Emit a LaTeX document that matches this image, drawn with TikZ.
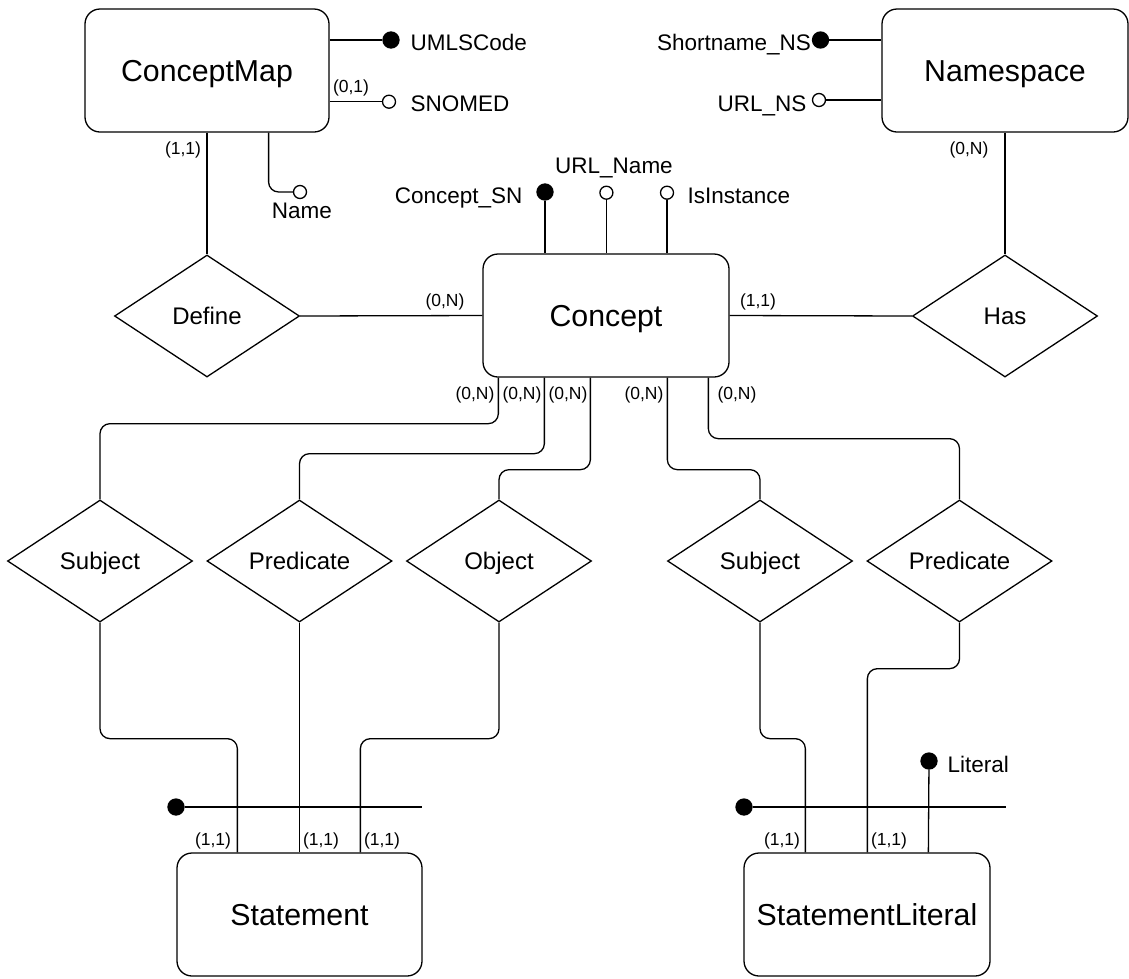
\documentclass[tikz,border=0pt]{standalone}
\usepackage{fontspec}
\setmainfont{Liberation Sans}
\usetikzlibrary{shapes.geometric}
\begin{document}
\begin{tikzpicture}[x=1pt,y=-1pt,
  line width=1.3pt,
  entity/.style={draw, rounded corners=15pt, minimum width=245pt, minimum height=123pt,
    inner sep=0pt, text height=21.7pt, text depth=0pt, font=\fontsize{30.3}{36}\selectfont},
  relation/.style={draw, diamond, minimum width=185pt, minimum height=122pt,
    inner sep=0pt, text height=17.2pt, text depth=0pt, font=\fontsize{24}{29}\selectfont},
  keydot/.style={circle, draw, fill=black, minimum size=16pt, inner sep=0pt},
  optdot/.style={circle, draw, fill=white, minimum size=13pt, inner sep=0pt},
  attr/.style={inner sep=0pt, font=\fontsize{22.5}{27}\selectfont},
  card/.style={inner sep=0pt, anchor=base, font=\fontsize{17.5}{21}\selectfont},
  conn/.style={rounded corners=10pt}
]
\useasboundingbox (0,0) rectangle (1129,978);

% entities
\node[entity, minimum width=244pt] (cmap) at (207,70.5) {ConceptMap};
\node[entity, minimum width=246pt] (ns) at (1005,70.5) {Namespace};
\node[entity, minimum width=246pt] (concept) at (606,315.5) {Concept};
\node[entity] (stmt) at (299.5,914.5) {Statement};
\node[entity, minimum width=246pt] (stlit) at (867,914.5) {StatementLiteral};

% relationships
\node[relation] (define) at (207,316) {Define};
\node[relation] (has) at (1005,316) {Has};
\node[relation] (subjA) at (100,561) {Subject};
\node[relation] (predA) at (299.5,561) {Predicate};
\node[relation] (obj) at (499,561) {Object};
\node[relation] (subjB) at (760,561) {Subject};
\node[relation] (predB) at (959.5,561) {Predicate};

% attribute markers
\node[keydot] (umlsdot) at (391,40) {};
\node[optdot] (snomeddot) at (389,101.7) {};
\node[optdot] (namedot) at (300,192) {};
\node[keydot] (sndot) at (545,192) {};
\node[optdot] (urldot) at (606.4,192.7) {};
\node[optdot] (instdot) at (667,192.7) {};
\node[keydot] (shortdot) at (820.5,40) {};
\node[optdot] (urlnsdot) at (819,100) {};
\node[keydot] (stmtkey) at (176,807) {};
\node[keydot] (stlitkey) at (744,807) {};
\node[keydot] (litdot) at (929,761) {};
\coordinate (stmtkeyend) at (422,807);
\coordinate (stlitkeyend) at (1006,807);

% attribute names
\node[attr, anchor=base west] (umlstxt) at (410,50) {UMLSCode};
\node[attr, anchor=base west] (snomedtxt) at (410,111.5) {SNOMED};
\node[attr, anchor=base] (nametxt) at (302,218) {Name};
\node[attr, anchor=base east] (sntxt) at (523,203) {Concept\_SN};
\node[attr, anchor=base] (urltxt) at (614,173) {URL\_Name};
\node[attr, anchor=base west] (insttxt) at (687,203) {IsInstance};
\node[attr, anchor=base east] (shorttxt) at (811.5,50) {Shortname\_NS};
\node[attr, anchor=base east] (urlnstxt) at (807,111.5) {URL\_NS};
\node[attr, anchor=base west] (littxt) at (947,772) {Literal};

% connectors
\draw (cmap.east |- umlsdot) -- (umlsdot);
\draw (cmap.east |- snomeddot) -- (snomeddot);
\draw[conn] ([xshift=61.6pt]cmap.south) |- (namedot);
\draw (cmap.south) -- (define.north);
\draw (define.east) -- (concept.west);
\draw (concept.east) -- (has.west);
\draw (ns.south) -- (has.north);
\draw (shortdot) -- (ns.west |- shortdot);
\draw (urlnsdot) -- (ns.west |- urlnsdot);
\draw (sndot) -- (sndot |- concept.north);
\draw (urldot) -- (urldot |- concept.north);
\draw (instdot) -- (instdot |- concept.north);

\draw[conn] ([xshift=16pt]concept.south west) -- ++(0,46) -| (subjA.north);
\draw[conn] ([xshift=62pt]concept.south west) -- ++(0,76) -| (predA.north);
\draw[conn] ([xshift=108pt]concept.south west) -- ++(0,92) -| (obj.north);
\draw[conn] ([xshift=185pt]concept.south west) -- ++(0,92) -| (subjB.north);
\draw[conn] ([xshift=226pt]concept.south west) -- ++(0,61) -| (predB.north);

\draw[conn] (subjA.south) -- ++(0,116) -| ([xshift=61pt]stmt.north west);
\draw (predA.south) -- (stmt.north);
\draw[conn] (obj.south) -- ++(0,116) -| ([xshift=184pt]stmt.north west);
\draw[conn] (subjB.south) -- ++(0,116) -| ([xshift=62pt]stlit.north west);
\draw[conn] (predB.south) -- ++(0,46) -| ([xshift=124pt]stlit.north west);
\draw ([xshift=185pt]stlit.north west) -- (litdot);
\draw (stmtkey) -- (stmtkeyend);
\draw (stlitkey) -- (stlitkeyend);

% cardinalities
\node[card] (c01) at (351,92) {(0,1)};
\node[card] (c11a) at (183,154) {(1,1)};
\node[card] (c0na) at (969,154) {(0,N)};
\node[card] (c0nb) at (445,306) {(0,N)};
\node[card] (c11b) at (758,306) {(1,1)};
\node[card] (c0nc) at (475,399) {(0,N)};
\node[card] (c0nd) at (522,399) {(0,N)};
\node[card] (c0ne) at (568,399) {(0,N)};
\node[card] (c0nf) at (644,399) {(0,N)};
\node[card] (c0ng) at (737,399) {(0,N)};
\node[card] (c11c) at (213,845) {(1,1)};
\node[card] (c11d) at (321,845) {(1,1)};
\node[card] (c11e) at (382,845) {(1,1)};
\node[card] (c11f) at (782,845) {(1,1)};
\node[card] (c11g) at (889,845) {(1,1)};
\end{tikzpicture}
\end{document}
